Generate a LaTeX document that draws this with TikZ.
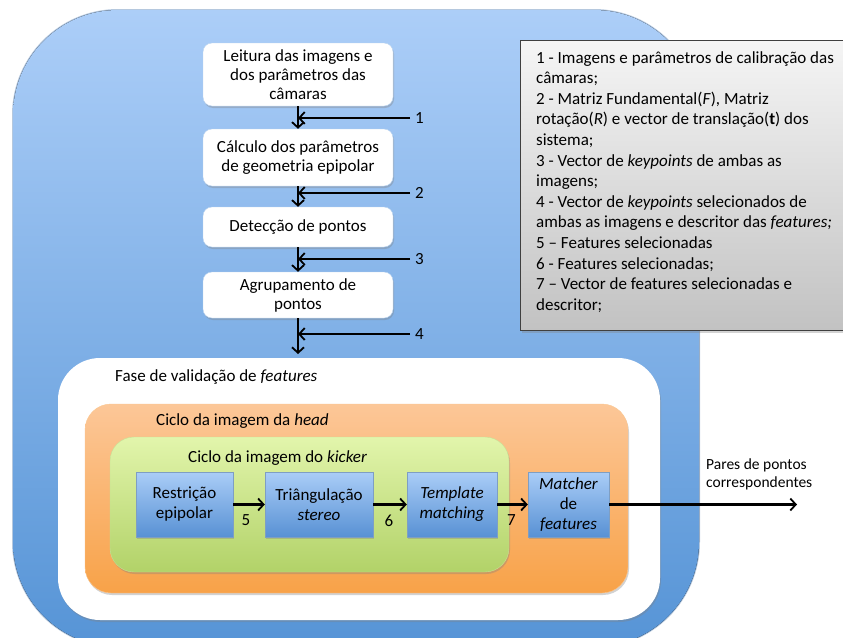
\documentclass[tikz,border=0pt]{standalone}
\usepackage{fontspec}
\setmainfont{Carlito}
\usepackage{xcolor}
\usetikzlibrary{arrows.meta, positioning, shadows}

\definecolor{azulclaro}{RGB}{172,206,248}
\definecolor{azulescuro}{RGB}{86,148,214}
\definecolor{laranjaclaro}{RGB}{252,199,152}
\definecolor{laranjaescuro}{RGB}{248,162,72}
\definecolor{verdeclaro}{RGB}{226,245,172}
\definecolor{verdeescuro}{RGB}{178,210,104}
\definecolor{caixaclaro}{RGB}{170,205,247}
\definecolor{caixaescuro}{RGB}{88,145,212}
\definecolor{cinzaclaro}{RGB}{245,245,245}
\definecolor{cinzaescuro}{RGB}{194,194,194}

\begin{document}
\begin{tikzpicture}[x=1pt, y=-1pt,
		sombra/.style={drop shadow={shadow xshift=1pt, shadow yshift=-2pt, opacity=0.35}},
		passo/.style={draw=azulescuro!40, fill=white, rounded corners=9pt, sombra,
			minimum width=190pt, align=center, inner sep=2pt,
			font=\fontsize{17}{19}\selectfont},
		bloco/.style={draw=caixaescuro!80!black!70, top color=caixaclaro, bottom color=caixaescuro,
			sombra, minimum height=65pt, align=center, inner sep=2pt,
			font=\fontsize{17}{20}\selectfont},
		seta/.style={-{Straight Barb[length=5.5pt, width=12pt, line width=1.8pt]}, line width=2.2pt},
		rotulo/.style={font=\fontsize{17}{19}\selectfont, inner sep=1pt},
		titulo/.style={font=\fontsize{17}{19}\selectfont, anchor=west, inner sep=0pt}
	]
	\useasboundingbox (0,0) rectangle (843,637);
	\clip (0,0) rectangle (843,637);

	% fundos
	\fill[azulescuro!80!black!40] (12,9) [rounded corners=106pt] rectangle (700,648);
	\fill[top color=azulclaro, bottom color=azulescuro, rounded corners=105pt] (13,10) rectangle (699,647);
	\node (fase) [fill=white, rounded corners=42pt, sombra, minimum width=602pt, minimum height=262pt] at (359,489) {};
	\node (ciclohead) [draw=laranjaescuro!60, top color=laranjaclaro, bottom color=laranjaescuro, rounded corners=26pt, sombra, minimum width=543pt, minimum height=189pt] at (356.5,498.5) {};
	\node (ciclokicker) [draw=verdeescuro!70, top color=verdeclaro, bottom color=verdeescuro, rounded corners=24pt, sombra, minimum width=399pt, minimum height=135pt] at (309.5,504.5) {};
	\node[titulo] at (115,377) {Fase de validação de \textit{features}};
	\node[titulo] at (156,421) {Ciclo da imagem da \textit{head}};
	\node[titulo] at (188,458) {Ciclo da imagem do \textit{kicker}};

	% coluna de cima
	\node (leitura) [passo, minimum height=63pt] at (298,74.5) {Leitura das imagens e\\dos parâmetros das\\câmaras};
	\node (calculo) [passo, minimum height=57pt] at (298,157.5) {Cálculo dos parâmetros\\de geometria epipolar};
	\node (deteccao) [passo, minimum height=40pt] at (298,227) {Detecção de pontos};
	\node (agrupamento) [passo, minimum height=46pt] at (298,295) {Agrupamento de\\pontos};
	\coordinate (entrada) at (298,354);

	\draw[seta] (leitura) -- (calculo);
	\draw[seta] (calculo) -- (deteccao);
	\draw[seta] (deteccao) -- (agrupamento);
	\draw[seta] (agrupamento) -- (entrada);

	\coordinate (e1) at (410,118);
	\coordinate (e2) at (410,193);
	\coordinate (e3) at (410,259);
	\coordinate (e4) at (410,334);
	\foreach \i in {1,...,4}
		\draw[seta] (e\i) node[rotulo, right=3pt] {\i} -- (e\i -| leitura);

	% blocos de dentro
	\node (restricao) [bloco, minimum width=97pt] at (184.5,504.5) {Restrição\\epipolar};
	\node (triangulacao) [bloco, minimum width=108pt] at (319,504.5) {Triângulação\\\textit{stereo}};
	\node (template) [bloco, minimum width=90pt] at (452,504.5) {\textit{Template}\\\textit{matching}};
	\node (matcher) [bloco, minimum width=81pt] at (568.5,504.5) {\textit{Matcher}\\de\\\textit{features}};
	\coordinate (saida) at (797,504.5);

	\draw[seta] (restricao) -- node[rotulo, below=8pt, xshift=-3pt] {5} (triangulacao);
	\draw[seta] (triangulacao) -- node[rotulo, below=8pt, xshift=-1pt] {6} (template);
	\draw[seta] (template) -- node[rotulo, below=8pt, xshift=-1pt] {7} (matcher);
	\draw[seta] (matcher) -- (saida);
	\node[font=\fontsize{15.5}{18}\selectfont, align=left, anchor=south west, inner sep=0pt] at (706,490) {Pares de pontos\\correspondentes};

	% legenda
	\node (legenda) [draw=black!75, line width=1.2pt, top color=cinzaclaro, bottom color=cinzaescuro, sombra, anchor=north west, minimum width=340pt, minimum height=290pt] at (520,40) {};
	\node (legtexto) [anchor=north west, align=left, inner sep=0pt, font=\fontsize{17}{20.6}\selectfont] at (536,51) {1 - Imagens e parâmetros de calibração das\\câmaras;\\2 - Matriz Fundamental(\textit{F}), Matriz\\rotação(\textit{R}) e vector de translação(\textbf{t}) dos\\sistema;\\3 - Vector de \textit{keypoints} de ambas as\\imagens;\\4 - Vector de \textit{keypoints} selecionados de\\ambas as imagens e descritor das \textit{features;}\\5 – Features selecionadas\\6 - Features selecionadas;\\7 – Vector de features selecionadas e\\descritor;};
\end{tikzpicture}
\end{document}
